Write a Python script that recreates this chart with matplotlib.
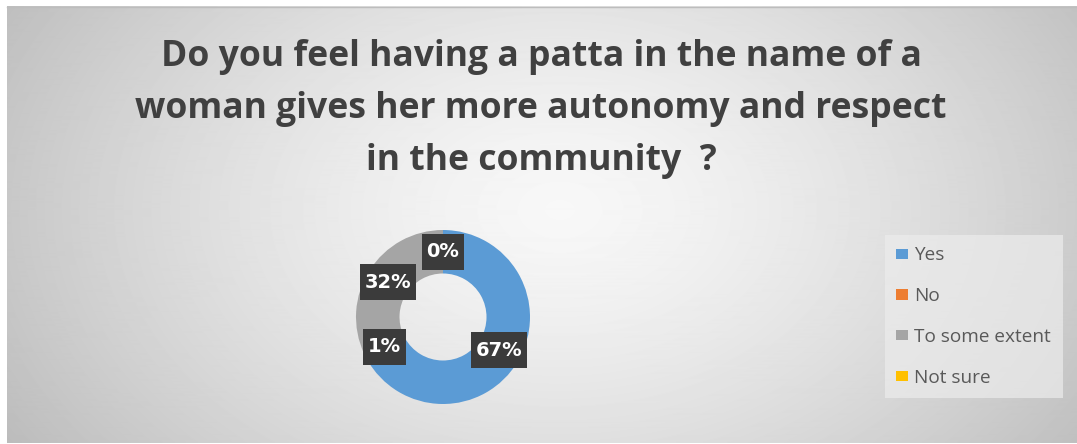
import numpy as np
import matplotlib.pyplot as plt
from matplotlib.patches import Rectangle
from matplotlib.transforms import IdentityTransform

# Survey responses
categories = ["Yes", "No", "To some extent", "Not sure"]
shares = [67, 1, 32, 0]
colors = ["#5B9BD5", "#ED7D31", "#A5A5A5", "#FFC000"]
title_lines = [
    "Do you feel having a patta in the name of a",
    "woman gives her more autonomy and respect",
    "in the community  ?",
]

W, H = 1077, 444
fig = plt.figure(figsize=(W / 100, H / 100), dpi=100)
fig.patch.set_facecolor("white")

# Chart area with a soft radial grey fill
bg = fig.add_axes([0, 0, 1, 1])
bg.set_xlim(0, W)
bg.set_ylim(H, 0)
bg.axis("off")
x0, x1, y0, y1 = 7, W, 7, 443
yy, xx = np.mgrid[y0:y1, x0:x1]
d = np.sqrt(((xx - 560) / 560.0) ** 2 + ((yy - 210) / 380.0) ** 2)
shade = np.clip(0.97 - 0.19 * d ** 1.4, 0, 1)
bg.imshow(shade, cmap="gray", vmin=0, vmax=1, extent=(x0, x1, y1, y0),
          aspect="auto", interpolation="bilinear", zorder=0)
bg.plot([x0, x1], [y0 + 0.5, y0 + 0.5], color="#bdbdbd", lw=1, zorder=1)

# Title
for i, line in enumerate(title_lines):
    fig.text(541 / W, 1 - (66 + 52 * i) / H, line, ha="center", va="baseline",
             fontsize=25.6, fontweight="bold", family="Open Sans", color="#404040")

# Doughnut
cx, cy, R = 443, 317, 87
half = 110
ax = fig.add_axes([(cx - half) / W, 1 - (cy + half) / H, 2 * half / W, 2 * half / H])
wedges, texts, autotexts = ax.pie(
    shares, colors=colors, startangle=90, counterclock=False, radius=1,
    wedgeprops=dict(width=0.5, edgecolor="none"),
    autopct="%.0f%%", pctdistance=0.75,
    textprops=dict(color="white", fontsize=14, fontweight="bold",
                   family="DejaVu Sans"),
)
lim = half / R
ax.set_xlim(-lim, lim)
ax.set_ylim(-lim, lim)
ax.set_aspect("equal")
ax.axis("off")

# Dark label boxes behind the percentages
fig.canvas.draw()
renderer = fig.canvas.get_renderer()
for t in autotexts:
    t.set_zorder(4)
    bb = t.get_window_extent(renderer)
    mx, my = (bb.x0 + bb.x1) / 2, (bb.y0 + bb.y1) / 2
    bw, bh = bb.width + 10, 36
    rect = Rectangle((mx - bw / 2, my - bh / 2), bw, bh, transform=IdentityTransform(),
                     facecolor="#3b3b3b", edgecolor="none", zorder=3, clip_on=False)
    ax.add_artist(rect)

# Legend
leg = fig.legend(wedges, categories, loc="upper left",
                 bbox_to_anchor=(885 / W, 1 - 235 / H),
                 frameon=True, facecolor="#ececec", edgecolor="none", framealpha=0.7,
                 fancybox=False, prop=dict(family="Open Sans", size=13.7),
                 labelspacing=1.2, handlelength=0.6, handleheight=0.45,
                 handletextpad=0.35, borderpad=0.6, borderaxespad=0)
for txt in leg.get_texts():
    txt.set_color("#595959")

fig.savefig("out.png", dpi=100)
